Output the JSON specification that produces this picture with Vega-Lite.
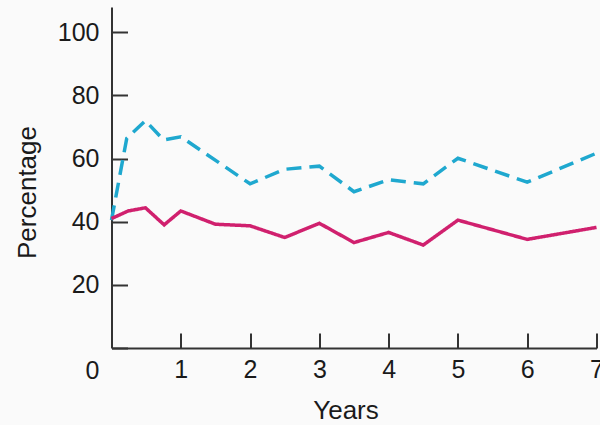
{
  "$schema": "https://vega.github.io/schema/vega-lite/v6.json",
  "autosize": "none",
  "width": 485,
  "height": 341,
  "padding": {"left": 111.5, "top": 7, "right": 3.5, "bottom": 77},
  "background": "#fafafa",
  "config": {
    "view": {"stroke": null},
    "font": "Liberation Sans"
  },
  "data": {
    "values": [
      {"series": "A", "year": 0, "pct": 40.5},
      {"series": "A", "year": 0.22, "pct": 66.4},
      {"series": "A", "year": 0.49, "pct": 72},
      {"series": "A", "year": 0.75, "pct": 65.9},
      {"series": "A", "year": 1, "pct": 66.9},
      {"series": "A", "year": 2, "pct": 52},
      {"series": "A", "year": 2.5, "pct": 56.6},
      {"series": "A", "year": 3, "pct": 57.6},
      {"series": "A", "year": 3.5, "pct": 49.5},
      {"series": "A", "year": 4, "pct": 53.3},
      {"series": "A", "year": 4.5, "pct": 52},
      {"series": "A", "year": 5, "pct": 60.1},
      {"series": "A", "year": 6, "pct": 52.5},
      {"series": "A", "year": 7, "pct": 61.7},
      {"series": "B", "year": 0, "pct": 41},
      {"series": "B", "year": 0.24, "pct": 43.4},
      {"series": "B", "year": 0.49, "pct": 44.4},
      {"series": "B", "year": 0.76, "pct": 39},
      {"series": "B", "year": 1, "pct": 43.4},
      {"series": "B", "year": 1.5, "pct": 39.2},
      {"series": "B", "year": 2, "pct": 38.7},
      {"series": "B", "year": 2.5, "pct": 35},
      {"series": "B", "year": 3, "pct": 39.5},
      {"series": "B", "year": 3.5, "pct": 33.4},
      {"series": "B", "year": 4, "pct": 36.6},
      {"series": "B", "year": 4.5, "pct": 32.6},
      {"series": "B", "year": 5, "pct": 40.5},
      {"series": "B", "year": 6, "pct": 34.4},
      {"series": "B", "year": 7, "pct": 38.2}
    ]
  },
  "mark": {"type": "line", "strokeWidth": 3.5, "strokeJoin": "miter"},
  "encoding": {
    "x": {
      "field": "year",
      "type": "quantitative",
      "scale": {"domain": [0, 7], "nice": false},
      "axis": {
        "values": [1, 2, 3, 4, 5, 6, 7],
        "grid": false,
        "title": "Years",
        "domainColor": "#333333",
        "domainWidth": 2,
        "tickColor": "#333333",
        "tickWidth": 2,
        "tickSize": -15,
        "labelPadding": 24,
        "labelFontSize": 25,
        "labelColor": "#1a1a1a",
        "labelFlush": false,
        "labelOverlap": false,
        "titleFontSize": 26,
        "titleFontWeight": "normal",
        "titleColor": "#1a1a1a",
        "titleBaseline": "alphabetic",
        "titleAlign": "center",
        "titleX": 234,
        "titleY": 70
      }
    },
    "y": {
      "field": "pct",
      "type": "quantitative",
      "scale": {"domain": [0, 108], "nice": false},
      "axis": {
        "values": [0, 20, 40, 60, 80, 100],
        "grid": false,
        "title": "Percentage",
        "domainColor": "#333333",
        "domainWidth": 2,
        "tickColor": "#333333",
        "tickWidth": 2,
        "tickSize": -16,
        "labelPadding": 28.5,
        "labelFontSize": 25,
        "labelColor": "#1a1a1a",
        "labelFlush": false,
        "labelOverlap": false,
        "labelOffset": {"condition": {"test": "datum.value === 0", "value": 22}, "value": 0},
        "titleFontSize": 26,
        "titleFontWeight": "normal",
        "titleColor": "#1a1a1a",
        "titleBaseline": "alphabetic",
        "titleAngle": -90,
        "titleAlign": "center",
        "titleX": -76,
        "titleY": 185
      }
    },
    "color": {
      "field": "series",
      "type": "nominal",
      "scale": {"domain": ["A", "B"], "range": ["#1fa8cf", "#d0206e"]},
      "legend": null
    },
    "strokeDash": {
      "field": "series",
      "type": "nominal",
      "scale": {"domain": ["A", "B"], "range": [[15, 8], [1, 0]]},
      "legend": null
    }
  }
}
